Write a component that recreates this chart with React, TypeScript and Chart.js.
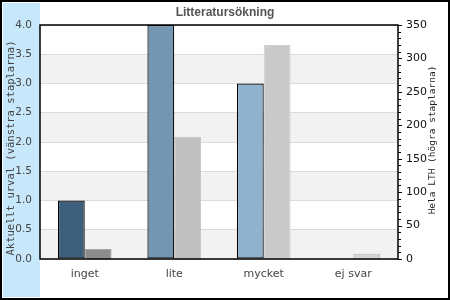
import React, { useEffect, useRef } from "react";
import { Chart, registerables } from "chart.js";

Chart.register(...registerables);

const categories = ["inget", "lite", "mycket", "ej svar"];
const leftValues = [1.0, 4.0, 3.0, 0];
const rightValues = [15, 183, 320, 8];
const leftTicks = [0, 0.5, 1, 1.5, 2, 2.5, 3, 3.5, 4];
const rightTicks = [0, 50, 100, 150, 200, 250, 300, 350];
const titleText = "Litteratursökning";
const leftTitle = "Aktuellt urval (vänstra staplarna)";
const rightTitle = "Hela LTH (högra staplarna)";

const leftColors = ["#3e5f7c", "#7396b3", "#8fb2cf", "#a8c4da"];
const rightColors = ["#8c8c8c", "#bfbfbf", "#cacaca", "#d4d4d4"];
const rightBorders = ["#a6a6a6", "#c4c4c4", "#cfcfcf", "#bdbdbd"];

const decorPlugin = {
  id: "decor",
  beforeDraw(chart: any) {
    const ctx = chart.ctx;
    const { left, right } = chart.chartArea;
    const y = chart.scales.y;
    ctx.save();
    ctx.fillStyle = "#ffffff";
    ctx.fillRect(0, 0, chart.width, chart.height);
    ctx.fillStyle = "#c7e7fb";
    ctx.fillRect(3, 3, left - 3, chart.height - 6);
    ctx.fillStyle = "#f2f2f2";
    for (let i = 1; i < leftTicks.length; i += 2) {
      const y0 = y.getPixelForValue(leftTicks[i - 1]);
      const y1 = y.getPixelForValue(leftTicks[i]);
      ctx.fillRect(left, y1, right - left, y0 - y1);
    }
    ctx.restore();
  },
  afterDraw(chart: any) {
    const ctx = chart.ctx;
    const { left, right, top, bottom } = chart.chartArea;
    const y2 = chart.scales.y2;
    ctx.save();
    ctx.strokeStyle = "#000";
    ctx.lineWidth = 2;
    ctx.strokeRect(1, 1, chart.width - 2, chart.height - 2);
    ctx.lineWidth = 1.5;
    ctx.strokeRect(left, top, right - left, bottom - top);
    ctx.lineWidth = 1;
    for (let v = 0; v <= 350; v += 10) {
      const py = Math.round(y2.getPixelForValue(v)) + 0.5;
      const len = v % 50 === 0 ? 4 : 3;
      ctx.beginPath();
      ctx.moveTo(right, py);
      ctx.lineTo(right + len, py);
      ctx.stroke();
    }
    ctx.fillStyle = "#555";
    ctx.font = "bold 12px 'Liberation Sans', Arial, sans-serif";
    ctx.textAlign = "center";
    ctx.textBaseline = "middle";
    ctx.fillText(titleText, 225, 12.5);
    ctx.fillStyle = "#444";
    ctx.font = "10.5px 'DejaVu Sans Mono', monospace";
    ctx.translate(11, 148);
    ctx.rotate(-Math.PI / 2);
    ctx.fillText(leftTitle, 0, 0);
    ctx.setTransform(1, 0, 0, 1, 0, 0);
    ctx.fillStyle = "#222";
    ctx.font = "9.5px 'DejaVu Sans Mono', monospace";
    ctx.translate(433, 140);
    ctx.rotate(-Math.PI / 2);
    ctx.fillText(rightTitle, 0, 0);
    ctx.restore();
  },
};

export default function App() {
  const ref = useRef<HTMLCanvasElement | null>(null);
  useEffect(() => {
    document.body.style.margin = "0";
    const chart = new Chart(ref.current as HTMLCanvasElement, {
      type: "bar",
      data: {
        labels: categories,
        datasets: [
          {
            label: "Aktuellt urval",
            data: leftValues,
            yAxisID: "y",
            backgroundColor: leftColors,
            borderColor: "#000",
            borderWidth: leftValues.map((v) => (v > 0 ? 1.2 : 0)),
            borderSkipped: false,
            barPercentage: 1,
            categoryPercentage: 0.6,
          },
          {
            label: "Hela LTH",
            data: rightValues,
            yAxisID: "y2",
            backgroundColor: rightColors,
            borderColor: rightBorders,
            borderWidth: 1,
            borderSkipped: "bottom",
            barPercentage: 1,
            categoryPercentage: 0.6,
          },
        ],
      },
      options: {
        responsive: false,
        animation: false,
        layout: { padding: { top: 25, left: 0, right: 0, bottom: 0 } },
        plugins: { legend: { display: false }, tooltip: { enabled: false }, title: { display: false } },
        scales: {
          x: {
            grid: { display: false, drawTicks: false },
            border: { display: false },
            ticks: {
              color: "#444",
              font: { family: "'DejaVu Sans'", size: 11 },
              padding: 9,
            },
            afterFit(scale: any) {
              scale.height = 41;
            },
          },
          y: {
            position: "left",
            min: 0,
            max: 4,
            afterBuildTicks(scale: any) {
              scale.ticks = leftTicks.map((v) => ({ value: v }));
            },
            grid: { color: "#dcdcdc", drawTicks: false, lineWidth: 1 },
            border: { display: false },
            ticks: {
              color: "#444",
              font: { family: "'DejaVu Sans'", size: 10.5 },
              padding: 8,
              callback: (v: any) => Number(v).toFixed(1),
            },
            afterFit(scale: any) {
              scale.width = 40;
            },
          },
          y2: {
            position: "right",
            min: 0,
            max: 350,
            afterBuildTicks(scale: any) {
              scale.ticks = rightTicks.map((v) => ({ value: v }));
            },
            grid: { display: false, drawTicks: false },
            border: { display: false },
            ticks: {
              color: "#111",
              font: { family: "'DejaVu Sans'", size: 11 },
              padding: 8,
            },
            afterFit(scale: any) {
              scale.width = 52;
            },
          },
        },
      },
      plugins: [decorPlugin],
    });
    return () => chart.destroy();
  }, []);
  return <canvas ref={ref} width={450} height={300} style={{ display: "block" }} />;
}
